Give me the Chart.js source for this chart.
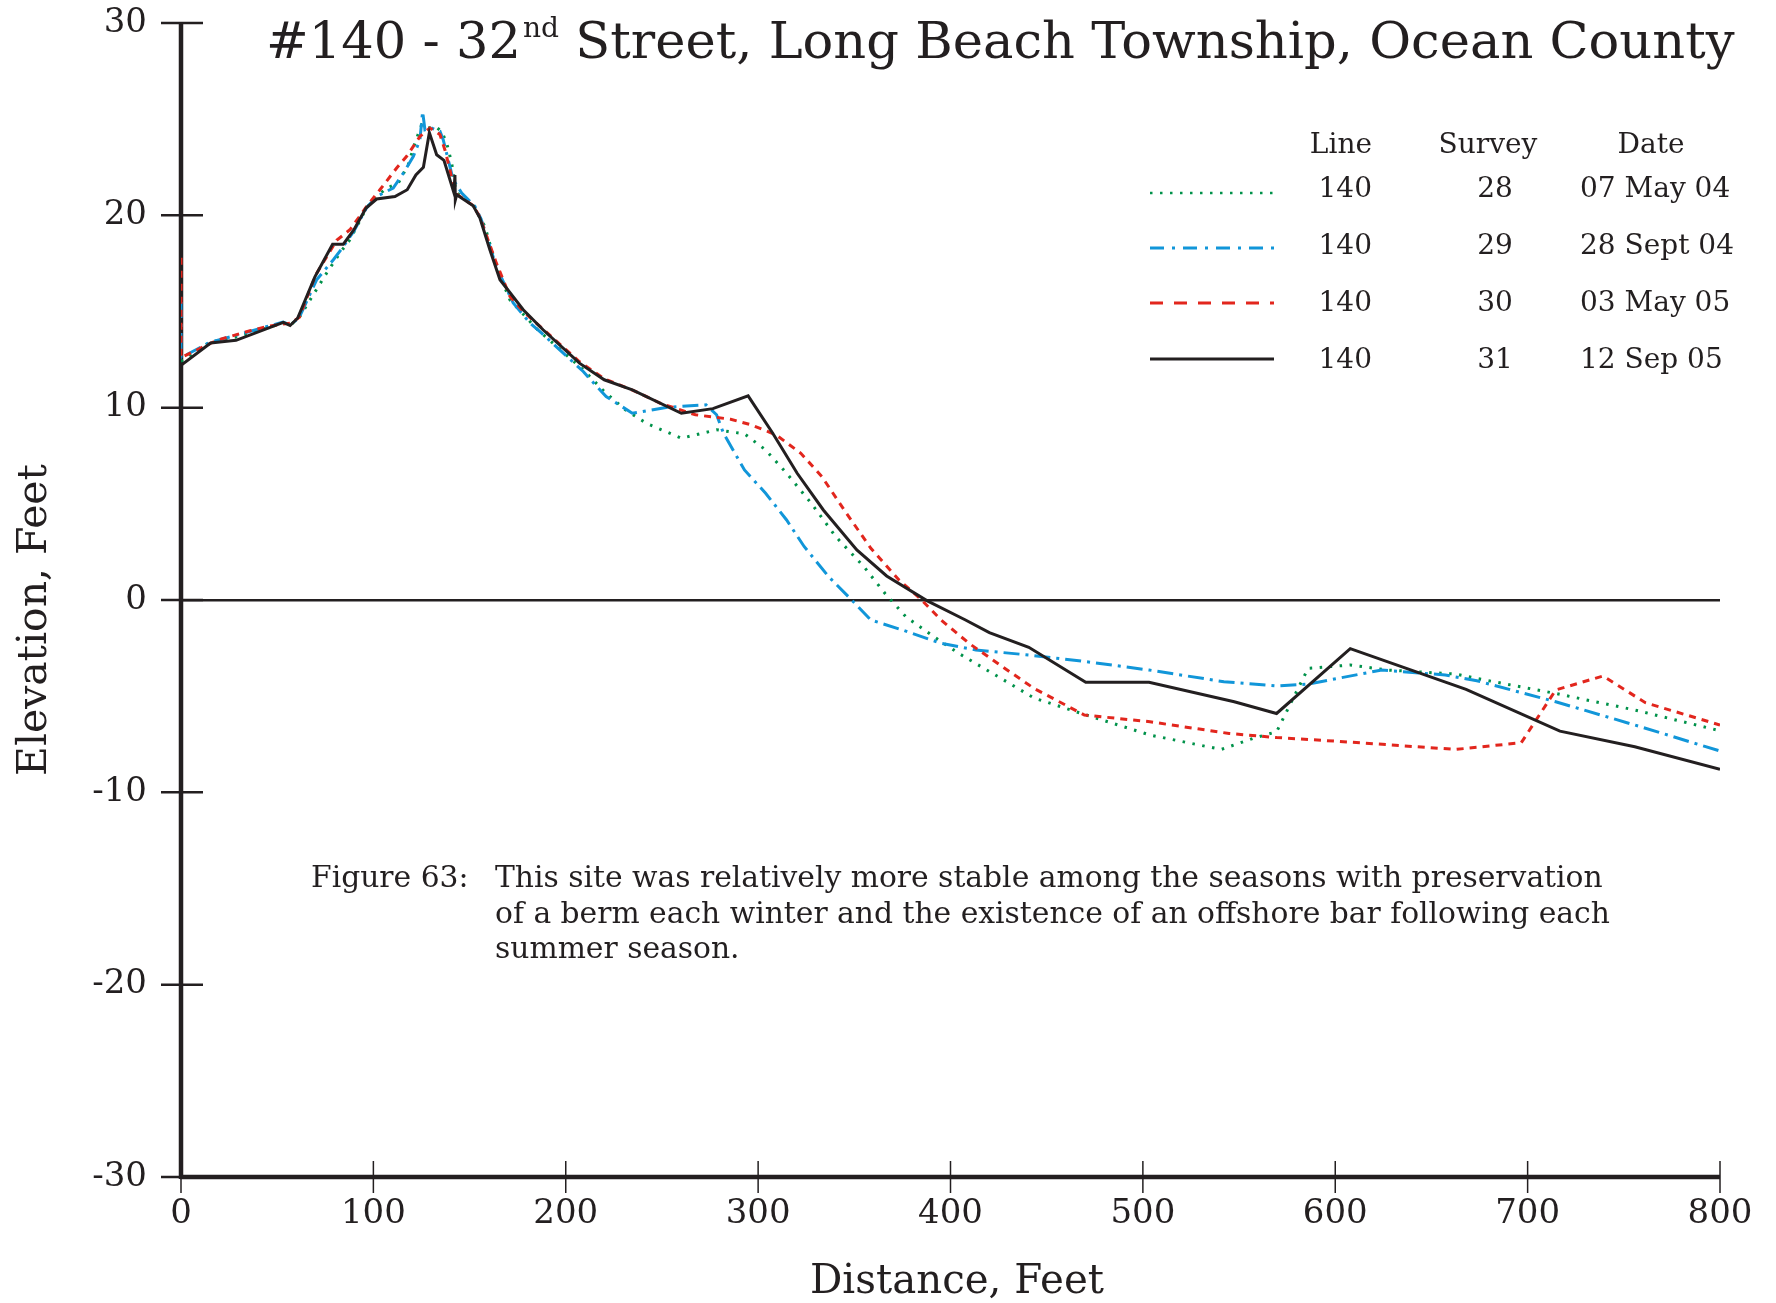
<!DOCTYPE html>
<html><head><meta charset="utf-8">
<script src="https://cdn.jsdelivr.net/npm/chart.js@4.4.1/dist/chart.umd.min.js"></script>
<style>html,body{margin:0;padding:0;background:#fff;}canvas{display:block;}</style>
</head><body>
<canvas id="c" width="1776" height="1303"></canvas>
<script>
// ---- data ----
const xTickValues = [0,100,200,300,400,500,600,700,800];
const yTickValues = [30,20,10,0,-10,-20,-30];

const dist28 = [0,15,30,53,57,61.8,75.7,82.6,87.8,96.5,101.7,106.9,113,118.1,121.6,125.1,128.5,132,135.5,138.1,140.7,143,152,158,164,171,185.4,209.1,220,231,241.9,260.1,278.4,292.9,303.9,314.8,327.6,340.4,355,365.9,376.8,391.4,404.2,421.6,443.5,468.1,503.7,540.7,557.2,569.5,585.9,607.8,627,662.6,673.6,714.6,755.7,800];
const elev28 = [12.4,13.4,13.7,14.4,14.3,14.74,17.0,18.04,18.73,20.4,20.98,21.42,21.68,22.63,23.76,24.71,24.54,24.63,24.37,23.76,22.72,21.2,20.5,19.42,17.3,15.6,14.05,11.97,10.84,9.89,9.19,8.41,8.85,8.64,7.8,6.59,5.03,3.29,1.73,0.35,-0.87,-1.91,-2.77,-3.8,-5.1,-5.9,-7.02,-7.77,-7.2,-6.85,-3.55,-3.38,-3.64,-3.85,-4.08,-4.86,-5.72,-6.8];

const dist29 = [0,0,15,30,53,57,61.5,70.5,79.2,84.4,90,96.5,101.7,110.3,115.6,120.8,124.2,125.6,126.8,129.9,134.6,136.3,138.9,141.5,145.9,152.8,156,164,172.7,181.4,187.5,209.1,214.6,221,234.6,252.9,272.9,278.4,282,292.9,303.9,314.8,324,336.7,349.5,358.6,375,395.1,413.2,440.7,470.9,503.2,542.1,569.5,585.9,624.2,657.2,673.6,714.6,755.7,800];
const elev29 = [15.5,12.6,13.4,13.8,14.45,14.3,14.7,16.65,17.69,18.38,19.2,20.4,20.98,21.42,22.2,23.07,23.93,25.4,24.45,24.55,24.37,23.93,22.89,21.85,21.16,20.46,19.8,17.3,15.44,14.4,13.87,11.88,11.27,10.58,9.71,10.02,10.15,9.63,8.67,6.76,5.55,4.16,2.77,1.21,-0.09,-1.04,-1.56,-2.25,-2.6,-2.86,-3.21,-3.64,-4.25,-4.47,-4.37,-3.64,-3.9,-4.2,-5.29,-6.5,-7.85];

const dist30 = [0,0,18.5,35.9,46.3,57,61.5,70,80.9,87.8,96.5,103.4,112.1,117.3,124.2,129.4,134.6,137.2,139.8,142.4,152,155.4,164,171,178,188,207,220,235,249.2,267.4,285.7,296.6,309.4,322.2,333.1,345.9,358.6,373.2,384.1,395.1,409.6,425.7,443.5,469.6,503.7,544.8,569.5,607.8,662.6,696.7,714.6,739.2,761.2,800];
const elev30 = [17.8,12.6,13.5,14.0,14.25,14.4,14.7,16.9,18.7,19.25,20.46,21.33,22.46,23.07,24.1,24.54,24.2,23.4,22.37,21.16,20.5,19.9,17.5,15.78,15.0,14.1,12.4,11.5,10.9,10.23,9.63,9.4,9.1,8.58,7.63,6.42,4.51,2.69,1.04,0.09,-1.04,-2.25,-3.38,-4.6,-5.98,-6.33,-6.94,-7.15,-7.39,-7.77,-7.42,-4.68,-3.95,-5.34,-6.5];

const dist31 = [0,15.4,28.6,53.2,56.7,60.6,69.6,78.8,84.4,89.9,96.2,101.7,111.2,117.6,122.1,126,129.1,132.9,136.7,141.9,142.4,142.6,143.3,151.9,155.4,160.6,165.8,177.9,188.2,207.3,220,234.6,260.1,276.5,294.8,307.6,320.3,333.9,351.3,366.8,387.7,407.8,420.2,440.7,470.3,503.2,547.5,569.5,607.8,668,716.8,755.7,800];
const elev31 = [12.2,13.36,13.5,14.43,14.27,14.65,16.8,18.5,18.5,19.25,20.38,20.85,20.98,21.33,22.1,22.5,24.3,23.15,22.86,21.16,22.1,20.8,21.07,20.5,19.86,18.2,16.65,15.09,14.05,12.3,11.45,10.93,9.71,9.95,10.61,8.67,6.59,4.68,2.6,1.25,-0.03,-1.04,-1.7,-2.46,-4.28,-4.28,-5.29,-5.9,-2.53,-4.65,-6.82,-7.63,-8.8];

const legendLine = ['140','140','140','140'];
const legendSurvey = ['28','29','30','31'];
const legendDate = ['07 May 04','28 Sept 04','03 May 05','12 Sep 05'];

const titleMain = '#140 - 32';
const titleSup = 'nd';
const titleRest = ' Street, Long Beach Township, Ocean County';
const captionLabel = 'Figure 63:';
const captionLines = ['This site was relatively more stable among the seasons with preservation',
  'of a berm each winter and the existence of an offshore bar following each',
  'summer season.'];
const xTitle = 'Distance, Feet';
const yTitle = 'Elevation, Feet';

// ---- style ----
const INK = '#231f20';
const GREEN = '#00924a';
const BLUE = '#1196d9';
const RED = '#e2261d';
const FONT = '"DejaVu Serif", "Liberation Serif", serif';

function pts(xs, ys){ return xs.map((x,i)=>({x:x, y:ys[i]})); }

function fitFont(ctx, text, target, base){
  ctx.font = base + 'px ' + FONT;
  const w = ctx.measureText(text).width;
  return base * target / w;
}

const decor = {
  id: 'decor',
  beforeDatasetsDraw(chart){
    const ctx = chart.ctx, xs = chart.scales.x, ys = chart.scales.y;
    const x0 = xs.getPixelForValue(0), y0b = ys.getPixelForValue(-30), y0t = ys.getPixelForValue(30);
    ctx.save();
    ctx.strokeStyle = INK;
    ctx.lineWidth = 4.5;
    ctx.beginPath(); ctx.moveTo(x0, y0t); ctx.lineTo(x0, y0b + 2); ctx.stroke();
    ctx.lineWidth = 2.5;
    yTickValues.forEach(v=>{
      const p = ys.getPixelForValue(v);
      ctx.beginPath(); ctx.moveTo(x0 - 20, p); ctx.lineTo(x0 + 22, p); ctx.stroke();
    });
    ctx.lineWidth = 4.5;
    const xr = xs.getPixelForValue(800);
    ctx.beginPath(); ctx.moveTo(x0 - 1, y0b); ctx.lineTo(xr, y0b); ctx.stroke();
    ctx.lineWidth = 1.5;
    xTickValues.forEach(v=>{
      const p = xs.getPixelForValue(v);
      ctx.beginPath(); ctx.moveTo(p, y0b - 16); ctx.lineTo(p, y0b + 16); ctx.stroke();
    });
    ctx.restore();
  },
  afterDraw(chart){
    const ctx = chart.ctx;
    ctx.save();
    ctx.fillStyle = INK;
    ctx.textBaseline = 'alphabetic';
    let s = 46;
    ctx.font = s + 'px ' + FONT;
    const wMain = ctx.measureText(titleMain).width, wRest = ctx.measureText(titleRest).width;
    ctx.font = (s*0.55) + 'px ' + FONT;
    const wSup = ctx.measureText(titleSup).width;
    const k = 1469 / (wMain + wSup + wRest + 2);
    s = s * k;
    let tx = 266;
    ctx.textAlign = 'left';
    ctx.font = s + 'px ' + FONT;
    ctx.fillText(titleMain, tx, 58); tx += ctx.measureText(titleMain).width + 2;
    ctx.font = (s*0.55) + 'px ' + FONT;
    ctx.fillText(titleSup, tx, 58 - s*0.42); tx += ctx.measureText(titleSup).width;
    ctx.font = s + 'px ' + FONT;
    ctx.fillText(titleRest, tx, 58);

    ctx.font = '28px ' + FONT;
    ctx.textAlign = 'right'; ctx.fillText('Line', 1372, 153);
    ctx.textAlign = 'center'; ctx.fillText('Survey', 1488, 153);
    ctx.fillText('Date', 1651, 153);
    const rowBase = [197, 254, 311, 368];
    const sampleY = [193, 248, 303, 359];
    const styles = [
      {c:GREEN, d:[2.5,7.5], w:2.5},
      {c:BLUE, d:[14,8,3,8], w:3},
      {c:RED, d:[13,11], w:3},
      {c:INK, d:[], w:3}
    ];
    for(let i=0;i<4;i++){
      ctx.textAlign = 'right'; ctx.fillText(legendLine[i], 1372, rowBase[i]);
      ctx.textAlign = 'center'; ctx.fillText(legendSurvey[i], 1495, rowBase[i]);
      ctx.textAlign = 'left'; ctx.fillText(legendDate[i], 1580, rowBase[i]);
      const st = styles[i];
      ctx.save();
      ctx.strokeStyle = st.c; ctx.lineWidth = st.w; ctx.setLineDash(st.d); ctx.lineCap = 'butt';
      ctx.beginPath(); ctx.moveTo(1150, sampleY[i]); ctx.lineTo(1274, sampleY[i]); ctx.stroke();
      ctx.restore();
    }

    const cs = fitFont(ctx, captionLines[0], 1108, 28);
    ctx.font = cs + 'px ' + FONT;
    ctx.textAlign = 'left';
    ctx.fillText(captionLabel, 311, 887);
    const cb = [887, 923, 958];
    captionLines.forEach((t,i)=>ctx.fillText(t, 495, cb[i]));

    const xs = fitFont(ctx, xTitle, 294, 38);
    ctx.font = xs + 'px ' + FONT;
    ctx.textAlign = 'center';
    ctx.fillText(xTitle, 957, 1293);
    const ysz = fitFont(ctx, yTitle, 312, 38);
    ctx.font = ysz + 'px ' + FONT;
    ctx.translate(46, 620);
    ctx.rotate(-Math.PI/2);
    ctx.fillText(yTitle, 0, 0);
    ctx.restore();
  }
};

const chart = new Chart(document.getElementById('c'), {
  type: 'line',
  data: {
    datasets: [
      {label:'31', data: pts(dist31, elev31), borderColor: INK, borderWidth: 3, order: 0},
      {label:'30', data: pts(dist30, elev30), borderColor: RED, borderWidth: 3, borderDash:[7,6], order: 1},
      {label:'29', data: pts(dist29, elev29), borderColor: BLUE, borderWidth: 3, borderDash:[16,6,3,6], order: 2},
      {label:'28', data: pts(dist28, elev28), borderColor: GREEN, borderWidth: 3, borderDash:[2.5,7.5], order: 3}
    ]
  },
  options: {
    responsive: false,
    devicePixelRatio: 1,
    animation: false,
    layout: { padding: { top: 23, right: 56, left: 0, bottom: 0 } },
    elements: { point: { radius: 0 }, line: { tension: 0, borderCapStyle: 'butt', borderJoinStyle: 'miter', fill: false } },
    plugins: { legend: { display: false }, tooltip: { enabled: false }, title: { display: false } },
    scales: {
      x: {
        type: 'linear', min: 0, max: 800,
        afterBuildTicks: (sc)=>{ sc.ticks = xTickValues.map(v=>({value:v})); },
        afterFit: (sc)=>{ sc.height = 126; sc.paddingLeft = 0; sc.paddingRight = 0; },
        grid: { display: false, drawTicks: false },
        border: { display: false },
        ticks: { padding: 17, maxRotation: 0, autoSkip: false, color: INK, font: { family: FONT, size: 34 } }
      },
      y: {
        type: 'linear', min: -30, max: 30,
        afterBuildTicks: (sc)=>{ sc.ticks = yTickValues.map(v=>({value:v})); },
        afterFit: (sc)=>{ sc.width = 181; sc.paddingTop = 0; sc.paddingBottom = 0; },
        grid: { drawTicks: false, lineWidth: 2.5, color: (c)=> (c.tick && c.tick.value === 0) ? INK : 'rgba(0,0,0,0)' },
        border: { display: false },
        ticks: { padding: 34, autoSkip: false, color: INK, font: { family: FONT, size: 34 } }
      }
    }
  },
  plugins: [decor]
});
</script>
</body></html>
